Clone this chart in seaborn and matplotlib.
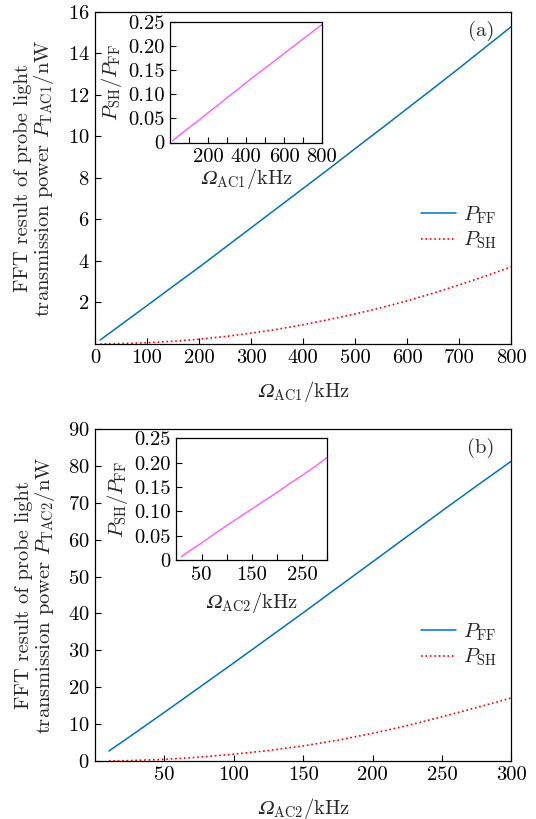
import numpy as np
import pandas as pd
import matplotlib
matplotlib.use('Agg')
import matplotlib.pyplot as plt
import seaborn as sns

# panel (a) values
freq_a = [10, 50, 100, 150, 200, 250, 300, 350, 400, 450, 500, 550, 600, 650, 700, 750, 800]
pff_a = [0.19, 0.93, 1.85, 2.78, 3.70, 4.65, 5.60, 6.55, 7.50, 8.45, 9.42, 10.38, 11.35, 12.32, 13.30, 14.30, 15.30]
psh_a = [0.00, 0.02, 0.06, 0.13, 0.23, 0.36, 0.52, 0.71, 0.93, 1.18, 1.45, 1.75, 2.08, 2.45, 2.85, 3.27, 3.72]
ratio_a = [0.003, 0.016, 0.031, 0.046, 0.062, 0.077, 0.093, 0.108, 0.124, 0.139, 0.154, 0.169, 0.184, 0.199, 0.214, 0.229, 0.244]

# panel (b) values
freq_b = [10, 25, 50, 75, 100, 125, 150, 175, 200, 225, 250, 275, 300]
pff_b = [2.7, 6.6, 13.2, 19.9, 26.6, 33.4, 40.2, 47.1, 54.0, 60.9, 67.8, 74.6, 81.3]
psh_b = [0.02, 0.12, 0.45, 1.05, 1.85, 2.85, 4.10, 5.65, 7.50, 9.60, 12.00, 14.50, 17.10]
ratio_b = [0.007, 0.018, 0.035, 0.053, 0.071, 0.088, 0.105, 0.122, 0.139, 0.157, 0.174, 0.192, 0.211]

blue = '#0072BD'
red = '#FF0000'
magenta = '#FF5CFF'

sns.set_style('white')
plt.rcParams['font.family'] = ['cmr10', 'DejaVu Serif']
plt.rcParams['mathtext.fontset'] = 'cm'
plt.rcParams['axes.formatter.use_mathtext'] = True
plt.rcParams['axes.unicode_minus'] = False

fig = plt.figure(figsize=(5.36, 8.19), dpi=100)

FS = 14.8
OMEGA = '\U0001D6FA'  # italic capital omega


def style_axes(ax):
    for s in ax.spines.values():
        s.set_color('black')
        s.set_linewidth(0.9)
    ax.tick_params(direction='in', length=4, width=0.8, labelsize=FS, pad=4,
                   bottom=True, left=True, top=False, right=False, colors='black')


def panel(rect, inset_rect, freq, pff, psh, ratio, xmax, ymax, yticks, xticks, xticklabels,
          ixticks, ixlabels, tag, sub, ixpad):
    ax = fig.add_axes(rect)
    df = pd.DataFrame({'f': freq, 'ff': pff, 'sh': psh})
    sns.lineplot(data=df, x='f', y='ff', ax=ax, color=blue, lw=1.1, label=r'$P_{\rm FF}$')
    sns.lineplot(data=df, x='f', y='sh', ax=ax, color=red, lw=1.2, ls=':', label=r'$P_{\rm SH}$')
    ax.set_xlim(0, xmax)
    ax.set_ylim(0, ymax)
    ax.set_yticks(yticks)
    ax.set_xticks(xticks)
    ax.set_xticklabels(xticklabels)
    style_axes(ax)
    ax.set_xlabel('$' + OMEGA + '_{\\rm ' + sub + '}/{\\rm kHz}$', fontsize=FS, labelpad=8)
    ax.set_ylabel('FFT result of probe light\ntransmission power $P_{\\rm T' + sub + '}$/nW',
                  fontsize=FS, labelpad=8, linespacing=1.0)
    ax.text(0.958, 0.972, tag, transform=ax.transAxes, ha='right', va='top', fontsize=FS)
    ax.legend(loc='center right', bbox_to_anchor=(0.965, 0.35), frameon=False, fontsize=FS,
              handlelength=1.7, handletextpad=0.35, labelspacing=0.2,
              borderpad=0, borderaxespad=0)

    ins = fig.add_axes(inset_rect)
    dfi = pd.DataFrame({'f': freq, 'r': ratio})
    sns.lineplot(data=dfi, x='f', y='r', ax=ins, color=magenta, lw=1.0)
    ins.set_xlim(0, xmax)
    ins.set_ylim(0, 0.25)
    ins.set_yticks([0, 0.05, 0.10, 0.15, 0.20, 0.25])
    ins.set_yticklabels(['0', '0.05', '0.10', '0.15', '0.20', '0.25'])
    ins.set_xticks(ixticks)
    ins.set_xticklabels(ixlabels)
    style_axes(ins)
    ins.set_xlabel('$' + OMEGA + '_{\\rm ' + sub + '}/{\\rm kHz}$', fontsize=FS, labelpad=ixpad)
    ins.set_ylabel(r'$P_{\rm SH}/P_{\rm FF}$', fontsize=FS, labelpad=3)
    return ax, ins


panel([0.1772, 0.580, 0.777, 0.4054], [0.318, 0.826, 0.2827, 0.1476],
      freq_a, pff_a, psh_a, ratio_a, 800, 16,
      [2, 4, 6, 8, 10, 12, 14, 16],
      list(range(0, 801, 100)), [str(v) for v in range(0, 801, 100)],
      list(range(100, 801, 100)), ['', '200', '', '400', '', '600', '', '800'],
      '(a)', 'AC1', 0)

panel([0.1772, 0.0708, 0.777, 0.4054], [0.329, 0.3162, 0.282, 0.1486],
      freq_b, pff_b, psh_b, ratio_b, 300, 90,
      list(range(0, 91, 10)),
      list(range(50, 301, 50)), [str(v) for v in range(50, 301, 50)],
      list(range(50, 301, 50)), ['50', '', '150', '', '250', ''],
      '(b)', 'AC2', 5)

fig.savefig('out.png', dpi=100)
